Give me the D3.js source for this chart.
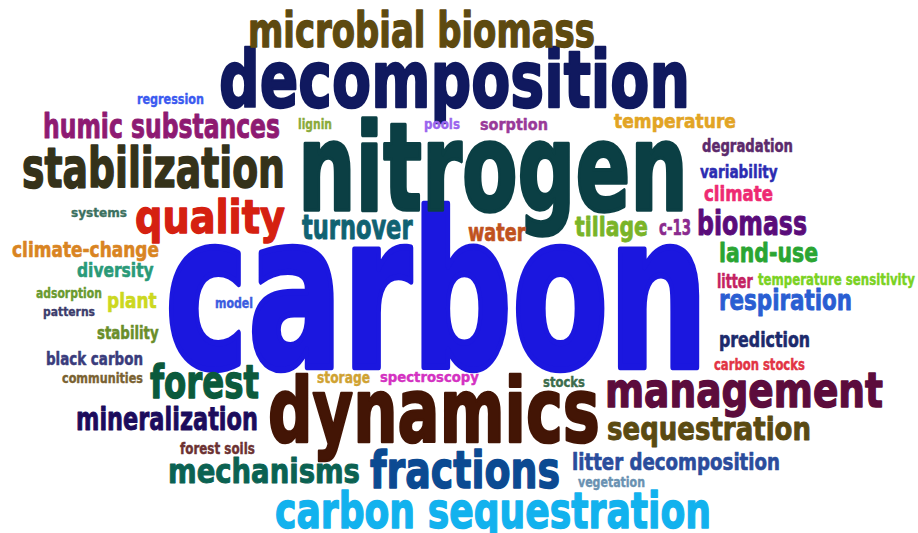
<!DOCTYPE html>
<html>
<head>
<meta charset="utf-8">
<script src="https://cdn.jsdelivr.net/npm/d3@7"></script>
<style>
  html, body { margin: 0; padding: 0; background: #ffffff; }
  svg { display: block; }
</style>
</head>
<body>
<div id="chart"></div>
<script>
// ---- data: keywords and their weights (relative frequency) ----
const words = [
  "carbon", "nitrogen", "decomposition", "dynamics", "microbial biomass",
  "management", "stabilization", "quality", "forest", "fractions",
  "carbon sequestration", "humic substances", "sequestration", "mineralization", "mechanisms",
  "turnover", "respiration", "biomass", "litter decomposition", "land-use",
  "tillage", "water", "prediction", "climate-change", "temperature",
  "climate", "diversity", "plant", "stability", "black carbon",
  "degradation", "variability", "sorption", "c-13", "regression",
  "lignin", "pools", "systems", "adsorption", "patterns",
  "model", "communities", "storage", "spectroscopy", "stocks",
  "forest soils", "vegetation", "litter", "temperature sensitivity", "carbon stocks"
];
const weights = [
  155, 88, 57, 65, 35,
  35, 40, 33, 33, 37,
  36, 25, 23, 23, 24,
  24, 20, 24, 17, 19,
  19, 18, 15, 15, 14,
  16, 14, 16, 13, 13,
  13, 13, 12, 15, 10,
  10, 10, 9, 10, 9,
  10, 10, 11, 10, 10,
  12, 10, 14, 12, 12
];
const colors = [
  "#1b17df", "#0b3f44", "#10195f", "#431505", "#5e4a10",
  "#5c0c3c", "#35321a", "#d52010", "#0b5a3c", "#0b4a92",
  "#12b2ee", "#8e1a72", "#5a4a12", "#1c0c5c", "#0b6252",
  "#106272", "#2a5ed2", "#5a0c7a", "#2a4c9c", "#2aa532",
  "#7ab428", "#c0521e", "#1c2a6c", "#d98422", "#e2a424",
  "#ee2a72", "#2a9a78", "#ccd820", "#6a8e2a", "#3a3c7c",
  "#5c2a6c", "#2c2cb2", "#993a99", "#8a2a8e", "#3a5af0",
  "#8aaa3a", "#9a66ee", "#3c7060", "#6a9a30", "#3c3c6c",
  "#3c5ce0", "#7a6232", "#d0a232", "#d432c2", "#3c6c4c",
  "#6c3232", "#6a92b2", "#c42262", "#7ad222", "#e23444"
];
// cloud layout (left edge, right edge, baseline) in layout units of the 918x533 canvas
const layoutLeft = [
  165, 298, 219, 268, 248,
  605, 22, 135, 150, 370,
  275, 43, 607, 76, 168,
  302, 719, 697, 572, 719,
  575, 468, 719, 12, 614,
  704, 77, 107, 97, 46,
  702, 700, 480, 659, 137,
  298, 424, 71, 36, 43,
  215, 62, 317, 380, 543,
  180, 578, 717, 758, 714
];
const layoutRight = [
  708, 688, 690, 600, 595,
  883, 285, 285, 259, 560,
  711, 280, 811, 258, 360,
  413, 852, 807, 780, 818,
  648, 526, 810, 159, 736,
  773, 154, 157, 159, 143,
  793, 778, 548, 691, 204,
  332, 460, 127, 102, 95,
  253, 143, 370, 479, 585,
  255, 645, 753, 915, 805
];
const layoutBaseline = [
  367, 210, 107, 442, 47,
  407, 187, 233, 398, 488,
  528, 138, 440, 430, 483,
  239, 310, 235, 470, 262,
  236, 241, 347, 257, 128,
  201, 277, 308, 339, 365,
  152, 178, 130, 235, 104,
  129, 129, 217, 298, 316,
  308, 383, 383, 382, 387,
  454, 487, 288, 285, 370
];

const W = 918, H = 533;
const svg = d3.select("#chart").append("svg")
  .attr("width", W).attr("height", H);

const x = d3.scaleLinear().domain([0, 918]).range([0, W]);
const y = d3.scaleLinear().domain([0, 533]).range([0, H]);
const fontSize = d3.scaleLinear().domain([0, d3.max(weights)]).range([0, d3.max(weights) * 1.38]);

const data = words.map((w, i) => ({
  text: w, weight: weights[i], color: colors[i],
  x0: layoutLeft[i], x1: layoutRight[i], base: layoutBaseline[i]
}));

const g = svg.append("g");
const nodes = g.selectAll("text").data(data).join("text")
  .text(d => d.text)
  .attr("x", 0).attr("y", 0)
  .attr("text-anchor", "start")
  .style("font-family", "'DejaVu Sans', 'Liberation Sans', sans-serif")
  .style("font-weight", "bold")
  .style("font-size", d => fontSize(d.weight) + "px")
  .attr("fill", d => d.color)
  .attr("stroke", d => d.color)
  .attr("stroke-width", d => fontSize(d.weight) * 0.03)
  .attr("stroke-linejoin", "round");

nodes.each(function(d) {
  const bb = this.getBBox();
  const target = x(d.x1) - x(d.x0);
  const sx = target / bb.width;
  d3.select(this).attr("transform",
    `translate(${x(d.x0) - bb.x * sx},${y(d.base)}) scale(${sx},1)`);
});
</script>
</body>
</html>
